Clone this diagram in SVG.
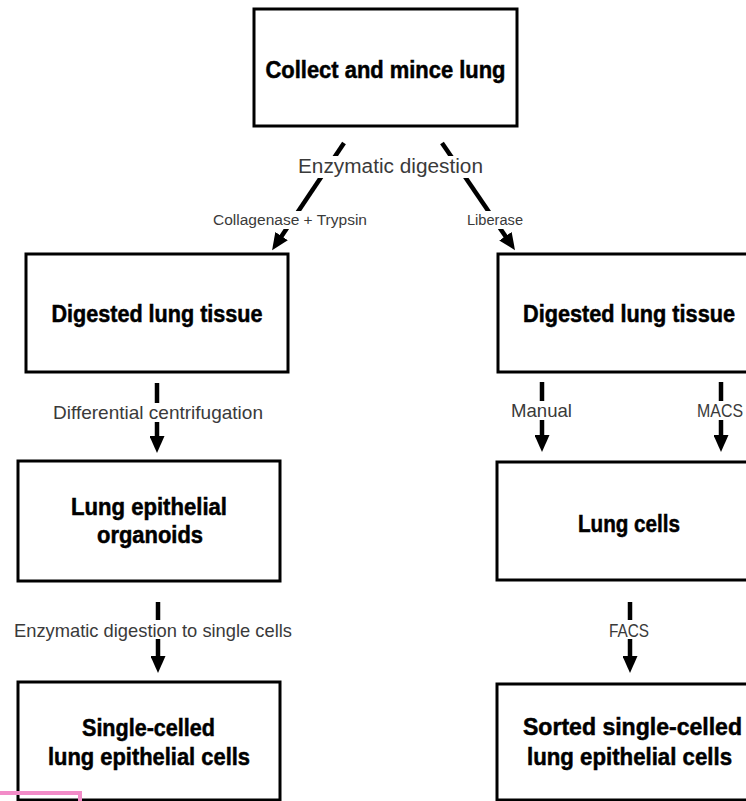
<svg xmlns="http://www.w3.org/2000/svg" width="746" height="801" viewBox="0 0 746 801">
  <style>
    .box { fill: #ffffff; stroke: #000000; stroke-width: 3; }
    .title { font-family: "Liberation Sans", Arial, sans-serif; font-weight: bold; font-size: 23px; fill: #000000; stroke: #000000; stroke-width: 0.5; text-anchor: middle; }
    .lbl { font-family: "Liberation Sans", Arial, sans-serif; font-size: 18.5px; fill: #3a3a3a; text-anchor: middle; }
    .lbl-sm { font-family: "Liberation Sans", Arial, sans-serif; font-size: 14px; fill: #3a3a3a; text-anchor: middle; }
    .edge { stroke: #000000; stroke-width: 4.5; fill: none; marker-end: url(#head); }
    .bg { fill: #ffffff; }
  </style>
  <defs>
    <marker id="head" markerUnits="userSpaceOnUse" markerWidth="17" markerHeight="15" refX="1" refY="7.5" orient="auto">
      <path d="M0,0 L17,7.5 L0,15 z" fill="#000000"/>
    </marker>
  </defs>

  <rect width="746" height="801" fill="#ffffff"/>

  <!-- connectors -->
  <g id="connectors">
    <!-- split from the top step -->
    <line class="edge" x1="344" y1="143" x2="281" y2="237"/>
    <line class="edge" x1="442" y1="143" x2="506" y2="237"/>
    <!-- left branch -->
    <line class="edge" x1="157" y1="383" x2="157" y2="437"/>
    <line class="edge" x1="158" y1="602" x2="158" y2="657"/>
    <!-- right branch -->
    <line class="edge" x1="542" y1="382" x2="542" y2="436"/>
    <line class="edge" x1="721" y1="382" x2="721" y2="436"/>
    <line class="edge" x1="630" y1="602" x2="630" y2="657"/>

    <!-- connector labels, on white so they break the lines -->
    <g id="edge-labels">
      <rect class="bg" x="296" y="156" width="189" height="22"/>
      <text class="lbl" x="390.5" y="173" style="font-size:20px" textLength="185" lengthAdjust="spacingAndGlyphs">Enzymatic digestion</text>

      <rect class="bg" x="211" y="211" width="158" height="18"/>
      <text class="lbl-sm" x="290" y="225" textLength="154" lengthAdjust="spacingAndGlyphs">Collagenase + Trypsin</text>

      <rect class="bg" x="465" y="211" width="60" height="18"/>
      <text class="lbl-sm" x="495" y="225" textLength="56" lengthAdjust="spacingAndGlyphs">Liberase</text>

      <rect class="bg" x="51" y="403" width="214" height="19"/>
      <text class="lbl" x="158" y="419" textLength="210" lengthAdjust="spacingAndGlyphs">Differential centrifugation</text>

      <rect class="bg" x="509" y="401" width="65" height="19"/>
      <text class="lbl" x="541.5" y="417" textLength="61" lengthAdjust="spacingAndGlyphs">Manual</text>

      <rect class="bg" x="696" y="401" width="50" height="19"/>
      <text class="lbl" x="720" y="417" textLength="46" lengthAdjust="spacingAndGlyphs">MACS</text>

      <rect class="bg" x="12" y="620" width="282" height="19"/>
      <text class="lbl" x="153" y="637" textLength="278" lengthAdjust="spacingAndGlyphs">Enzymatic digestion to single cells</text>

      <rect class="bg" x="607" y="620" width="44" height="19"/>
      <text class="lbl" x="629" y="637" textLength="40" lengthAdjust="spacingAndGlyphs">FACS</text>
    </g>
  </g>

  <!-- nodes -->
  <g id="collect">
    <rect class="box" x="254" y="9" width="263" height="117"/>
    <text class="title" x="385.5" y="78" textLength="240" lengthAdjust="spacingAndGlyphs">Collect and mince lung</text>
  </g>

  <g id="digested-left">
    <rect class="box" x="26" y="254" width="262" height="118"/>
    <text class="title" x="157" y="322" textLength="211" lengthAdjust="spacingAndGlyphs">Digested lung tissue</text>
  </g>

  <g id="organoids">
    <rect class="box" x="18" y="461" width="262" height="120"/>
    <text class="title" x="149" y="515" textLength="156" lengthAdjust="spacingAndGlyphs">Lung epithelial</text>
    <text class="title" x="150" y="543" textLength="106" lengthAdjust="spacingAndGlyphs">organoids</text>
  </g>

  <g id="single-celled">
    <rect class="box" x="18" y="682" width="262" height="118"/>
    <text class="title" x="148.5" y="736" textLength="133" lengthAdjust="spacingAndGlyphs">Single-celled</text>
    <text class="title" x="149" y="765" textLength="202" lengthAdjust="spacingAndGlyphs">lung epithelial cells</text>
  </g>

  <g id="digested-right">
    <rect class="box" x="498" y="254" width="262" height="118"/>
    <text class="title" x="629" y="322" textLength="212" lengthAdjust="spacingAndGlyphs">Digested lung tissue</text>
  </g>

  <g id="lung-cells">
    <rect class="box" x="497" y="462" width="264" height="118"/>
    <text class="title" x="629" y="532" textLength="102" lengthAdjust="spacingAndGlyphs">Lung cells</text>
  </g>

  <g id="sorted">
    <rect class="box" x="497" y="684" width="264" height="116"/>
    <text class="title" x="632.5" y="735" textLength="219" lengthAdjust="spacingAndGlyphs">Sorted single-celled</text>
    <text class="title" x="629.5" y="765" textLength="205" lengthAdjust="spacingAndGlyphs">lung epithelial cells</text>
  </g>

  <!-- pink mark at the lower left -->
  <path d="M0,793 H80 V801" fill="none" stroke="#f28cc8" stroke-width="4"/>
</svg>
